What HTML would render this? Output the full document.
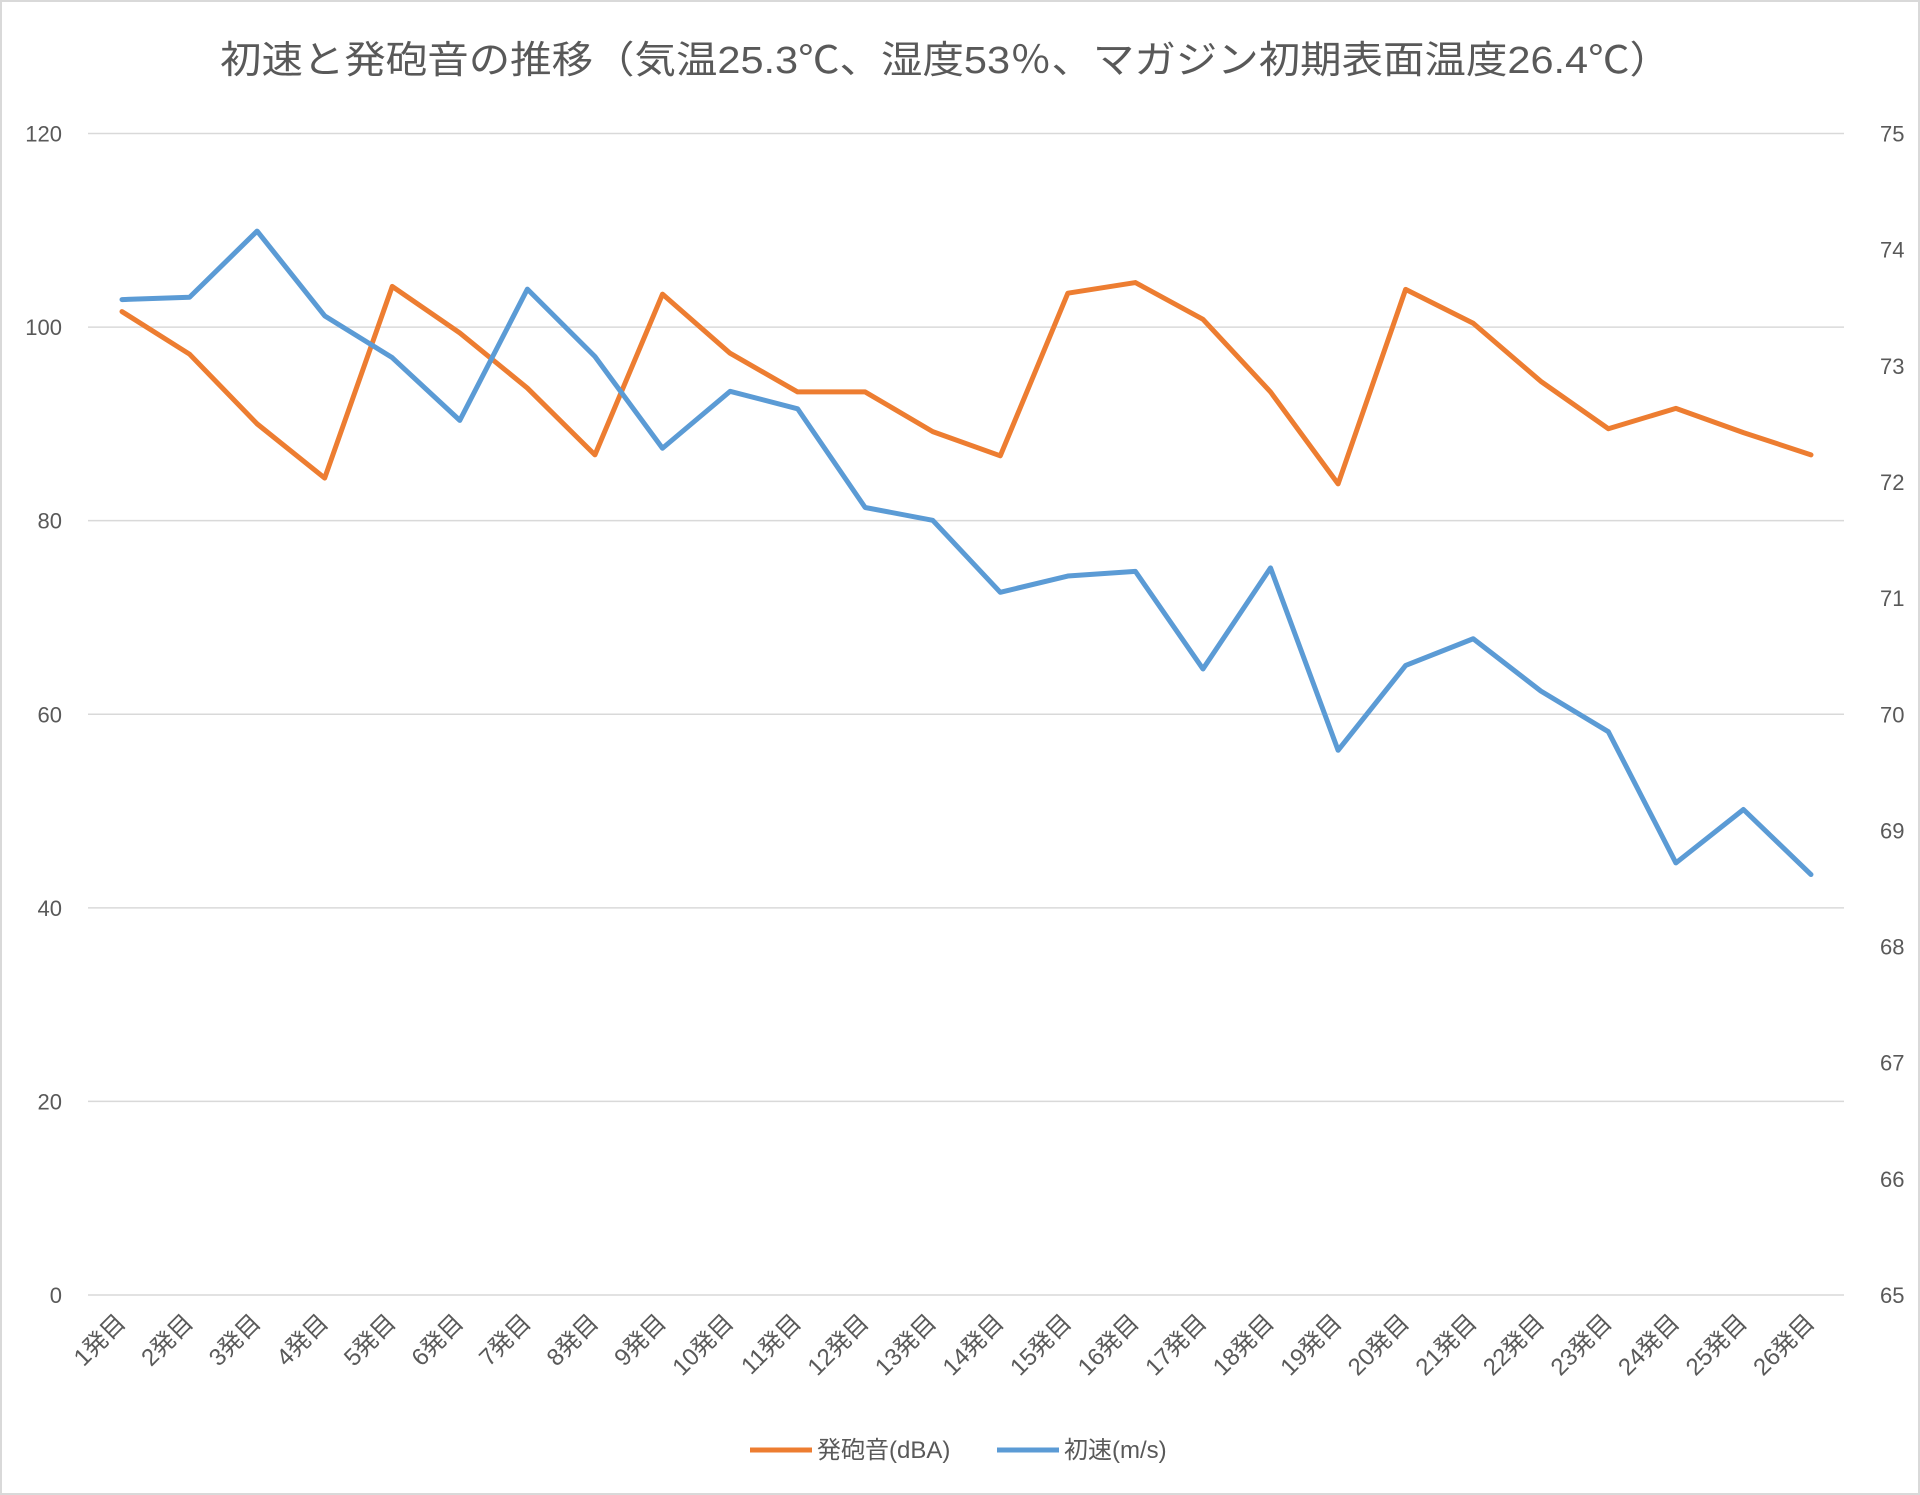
<!DOCTYPE html>
<html><head><meta charset="utf-8">
<style>
body{margin:0;background:#fff;}
svg{display:block;font-family:"Liberation Sans","Noto Sans CJK JP",sans-serif;}
</style></head>
<body>
<svg id="chart" width="1920" height="1495" viewBox="0 0 1920 1495" xmlns="http://www.w3.org/2000/svg">
<rect x="1" y="1" width="1918" height="1493" fill="#fff" stroke="#d9d9d9" stroke-width="2"/>
<text x="220" y="73" textLength="1451" lengthAdjust="spacingAndGlyphs" font-size="38" fill="#595959">初速と発砲音の推移（気温25.3℃、湿度53％、マガジン初期表面温度26.4℃）</text>
<g id="grid"></g><g id="lines"></g><g id="labels"></g>
<g>
<line x1="750" y1="1450" x2="812" y2="1450" stroke="#ED7D31" stroke-width="5"/>
<text x="817" y="1458" font-size="24" fill="#595959">発砲音(dBA)</text>
<line x1="997" y1="1450" x2="1059" y2="1450" stroke="#5B9BD5" stroke-width="5"/>
<text x="1064" y="1458" font-size="24" fill="#595959">初速(m/s)</text>
</g>
</svg>
<script>
const categories = ["1発目","2発目","3発目","4発目","5発目","6発目","7発目","8発目","9発目","10発目","11発目","12発目","13発目","14発目","15発目","16発目","17発目","18発目","19発目","20発目","21発目","22発目","23発目","24発目","25発目","26発目"];
const soundValues = [101.6,97.2,90,84.4,104.2,99.4,93.7,86.8,103.4,97.3,93.3,93.3,89.2,86.7,103.5,104.6,100.8,93.3,83.8,103.9,100.4,94.4,89.5,91.6,89.1,86.8];
const velocityValues = [73.57,73.59,74.16,73.43,73.07,72.53,73.66,73.08,72.29,72.78,72.63,71.78,71.67,71.05,71.19,71.23,70.39,71.26,69.69,70.42,70.65,70.20,69.85,68.72,69.18,68.62];
const leftTicks = [0,20,40,60,80,100,120];
const rightTicks = [65,66,67,68,69,70,71,72,73,74,75];

const NS="http://www.w3.org/2000/svg";
const L=88,R=1844,T=133.5,B=1295;
const x0=122,x1=1811;
function xs(i){return x0+(x1-x0)*i/(categories.length-1);}
function yl(v){return B-(v-0)/(120-0)*(B-T);}
function yr(v){return B-(v-65)/(75-65)*(B-T);}
function mk(tag,attrs,parent){const e=document.createElementNS(NS,tag);for(const k in attrs)e.setAttribute(k,attrs[k]);parent.appendChild(e);return e;}
const grid=document.getElementById('grid'),lines=document.getElementById('lines'),labels=document.getElementById('labels');
leftTicks.forEach(v=>{
  const g=mk('line',{x1:L,x2:R,y1:yl(v),y2:yl(v),stroke:'#d9d9d9','stroke-width':1.5},grid);
  
  
  const t=mk('text',{x:62,y:yl(v)+8,'text-anchor':'end','font-size':22,fill:'#595959'},labels);
  t.textContent=v;
  
  
});
rightTicks.forEach(v=>{
  const t=mk('text',{x:1880,y:yr(v)+8,'text-anchor':'start','font-size':22,fill:'#595959'},labels);
  t.textContent=v;
  
  
});
categories.forEach((c,i)=>{
  const x=xs(i)+5,y=1324;
  const t=mk('text',{x:x,y:y,'text-anchor':'end','font-size':24,fill:'#595959',transform:`rotate(-45 ${x} ${y})`},labels);
  t.textContent=c;
  
  
});
const p1=mk('polyline',{points:soundValues.map((v,i)=>xs(i)+','+yl(v)).join(' '),fill:'none',stroke:'#ED7D31','stroke-width':5,'stroke-linejoin':'round','stroke-linecap':'round'},lines);


const p2=mk('polyline',{points:velocityValues.map((v,i)=>xs(i)+','+yr(v)).join(' '),fill:'none',stroke:'#5B9BD5','stroke-width':5,'stroke-linejoin':'round','stroke-linecap':'round'},lines);


</script>
</body></html>
